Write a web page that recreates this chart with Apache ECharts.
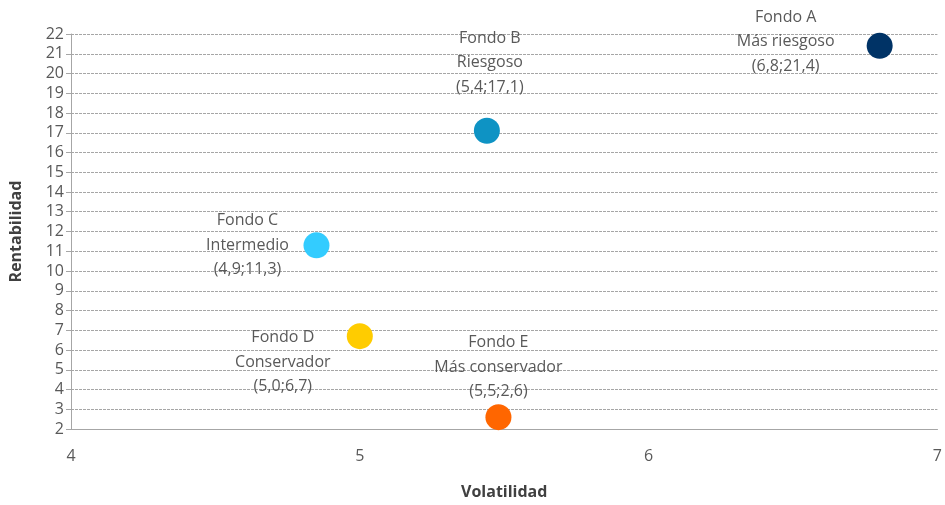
<!DOCTYPE html>
<html>
<head>
<meta charset="utf-8">
<script src="https://cdn.jsdelivr.net/npm/echarts@6/dist/echarts.min.js"></script>
<style>
html, body { margin: 0; padding: 0; background: #fff; }
#chart { width: 945px; height: 505px; }
</style>
</head>
<body>
<div id="chart"></div>
<script>
var fondos = ['Fondo A', 'Fondo B', 'Fondo C', 'Fondo D', 'Fondo E'];
var perfiles = ['Más riesgoso', 'Riesgoso', 'Intermedio', 'Conservador', 'Más conservador'];
var etiquetas = ['(6,8;21,4)', '(5,4;17,1)', '(4,9;11,3)', '(5,0;6,7)', '(5,5;2,6)'];
var volatilidad = [6.8, 5.44, 4.85, 5.0, 5.48];
var rentabilidad = [21.4, 17.1, 11.3, 6.7, 2.6];

// estilos
var colores = ['#003366', '#0e93c4', '#33ccff', '#ffcc00', '#ff6600'];
var desplaz = [[-94, -4], [3, -68], [-69, 0], [-77, 26], [0, -50]];

var myChart = echarts.init(document.getElementById('chart'));

var datos = fondos.map(function (f, i) {
	return {
		name: f,
		value: [volatilidad[i], rentabilidad[i]],
		itemStyle: { color: colores[i], opacity: 1 },
		label: {
			offset: desplaz[i],
			formatter: f + '\n' + perfiles[i] + '\n' + etiquetas[i]
		}
	};
});

myChart.setOption({
	animation: false,
	textStyle: { fontFamily: 'Open Sans' },
	grid: { left: 71, top: 34, width: 871, height: 398 },
	xAxis: {
		type: 'value',
		min: 4,
		max: 7,
		interval: 1,
		name: 'Volatilidad',
		nameLocation: 'middle',
		nameGap: 55,
		nameTextStyle: { color: '#404040', fontSize: 16, fontWeight: 'bold' },
		axisLine: { show: true, lineStyle: { color: '#a6a6a6', width: 1 } },
		axisTick: { show: false },
		axisLabel: { color: '#595959', fontSize: 16, margin: 19 },
		splitLine: { show: false }
	},
	yAxis: {
		type: 'value',
		min: 2,
		max: 22,
		interval: 1,
		name: 'Rentabilidad',
		nameLocation: 'middle',
		nameGap: 47,
		nameTextStyle: { color: '#404040', fontSize: 16, fontWeight: 'bold' },
		axisLine: { show: true, lineStyle: { color: '#a6a6a6', width: 1 } },
		axisTick: { show: true, length: 5, lineStyle: { color: '#a6a6a6' } },
		axisLabel: { color: '#595959', fontSize: 16, margin: 7 },
		splitLine: { show: true, lineStyle: { color: '#a6a6a6', type: [3, 1], width: 1 } }
	},
	series: [{
		type: 'scatter',
		symbolSize: 26,
		data: datos,
		label: {
			show: true,
			position: 'inside',
			align: 'center',
			verticalAlign: 'middle',
			color: '#595959',
			fontSize: 16,
			lineHeight: 24.5
		}
	}]
});

window.addEventListener('resize', function () {
	myChart.resize();
});
</script>
</body>
</html>
